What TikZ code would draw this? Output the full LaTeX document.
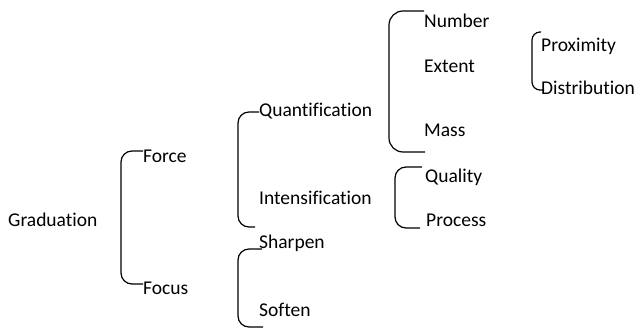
\documentclass[tikz,border=0pt]{standalone}
\usepackage{fontspec}
\setmainfont{Carlito}[Ligatures=NoCommon]

\begin{document}
\begin{tikzpicture}[x=1pt, y=-1pt,
  term/.style={anchor=base west, inner sep=0pt, font=\fontsize{19.5}{23}\selectfont},
  brace/.style={draw, line width=1.2pt, rounded corners=11pt}]
\useasboundingbox (0,0) rectangle (637,336);
% terms, placed by baseline
\node[term] (grad) at (8,227) {Graduation};
\node[term] (force) at (143,163) {Force};
\node[term] (focus) at (143,295) {Focus};
\node[term] (quant) at (259,117) {Quantification};
\node[term] (intens) at (259,205) {Intensification};
\node[term] (sharpen) at (259,249) {Sharpen};
\node[term] (soften) at (259,317) {Soften};
\node[term] (number) at (424,28) {Number};
\node[term] (extent) at (424,73) {Extent};
\node[term] (mass) at (424,137) {Mass};
\node[term] (prox) at (541,52) {Proximity};
\node[term] (distr) at (541,95) {Distribution};
\node[term] (quality) at (425,183) {Quality};
\node[term] (process) at (426,227) {Process};
% brackets
\draw[brace] ([yshift=12pt]force.base west) -- ++(-22,0) |- ([yshift=11pt]focus.base west);
\draw[brace] ([yshift=5pt]quant.base west) -- ++(-21,0) |- ([xshift=-4pt,yshift=-22pt]intens.base west);
\draw[brace] ([xshift=3pt]sharpen.base west) -- ++(-24,0) |- ([xshift=4pt,yshift=-10pt]soften.base west);
\draw[brace, rounded corners=14pt] ([yshift=17pt]number.base west) -- ++(-35,0) |- ([xshift=1pt,yshift=-15pt]mass.base west);
\draw[brace, rounded corners=8pt] ([yshift=20pt]prox.base west) -- ++(-9,0) |- ([xshift=3pt,yshift=5pt]distr.base west);
\draw[brace] ([xshift=-3pt,yshift=16pt]quality.base west) -- ++(-27,0) |- ([xshift=-6pt,yshift=-1pt]process.base west);
\end{tikzpicture}
\end{document}
